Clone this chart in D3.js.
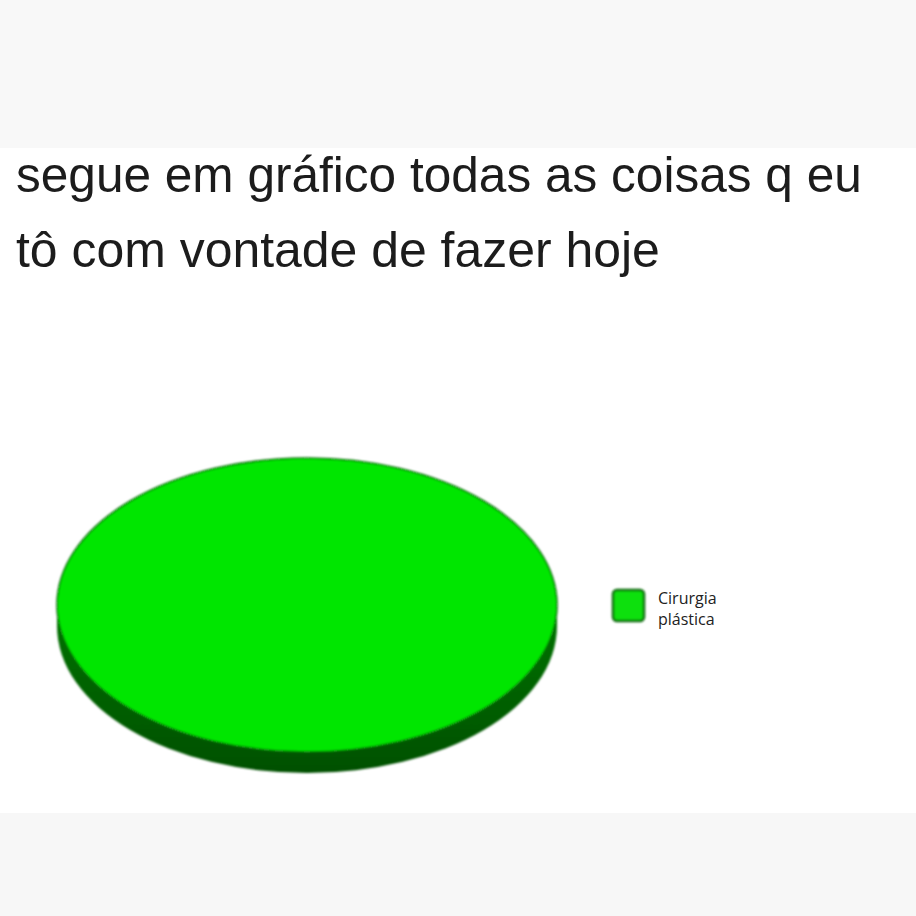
<!DOCTYPE html>
<html><head><meta charset="utf-8">
<script src="https://cdn.jsdelivr.net/npm/d3@7"></script>
<style>html,body{margin:0;padding:0;background:#fff;}svg{display:block;}</style>
</head><body>
<script>
const titleLines = ["segue em gráfico todas as coisas q eu", "tô com vontade de fazer hoje"];
const categories = ["Cirurgia plástica"];
const values = [100];
const legendLines = ["Cirurgia", "plástica"];

(function () {
const W = 916, H = 916;
const svg = d3.select("body").append("svg").attr("width", W).attr("height", H);

svg.append("rect").attr("width", W).attr("height", 148).attr("fill", "#f8f8f8");
svg.append("rect").attr("y", 148).attr("width", W).attr("height", 665).attr("fill", "#ffffff");
svg.append("rect").attr("y", 813).attr("width", W).attr("height", 103).attr("fill", "#f7f7f7");

const defs = svg.append("defs");
const sideGrad = defs.append("linearGradient").attr("id", "side").attr("x1", 0).attr("x2", 0).attr("y1", 0).attr("y2", 1);
sideGrad.append("stop").attr("offset", "0%").attr("stop-color", "#009000");
sideGrad.append("stop").attr("offset", "100%").attr("stop-color", "#005000");
const blur = defs.append("filter").attr("id", "soft").attr("x", "-10%").attr("y", "-10%").attr("width", "120%").attr("height", "120%");
blur.append("feGaussianBlur").attr("stdDeviation", 1.2);

// title
const titleTargets = [846, 644];
const tg = svg.append("g");
titleLines.forEach((t, i) => {
  const txt = tg.append("text").attr("x", 16).attr("y", [192, 267][i])
    .attr("font-family", "Liberation Sans, Arial, sans-serif").attr("font-size", 40)
    .attr("fill", "#1c1c1c").text(t);
  const len = txt.node().getComputedTextLength();
  txt.attr("font-size", 40 * titleTargets[i] / len);
});

// pie
const cx = 307, cy = 605, R = 250, ry = 147, depth = 21;
const pieData = d3.pie().sort(null)(values);
const arc = d3.arc().innerRadius(0).outerRadius(R);
const pg = svg.append("g").attr("filter", "url(#soft)");

const sideG = pg.append("g").attr("transform", `translate(${cx},${cy + depth}) scale(1,${ry / R})`);
sideG.selectAll("path").data(pieData).join("path").attr("d", arc).attr("fill", "url(#side)");
pg.append("rect").attr("x", cx - R).attr("y", cy).attr("width", 2 * R).attr("height", depth).attr("fill", "#007a00");

const topG = pg.append("g").attr("transform", `translate(${cx},${cy}) scale(1,${ry / R})`);
topG.selectAll("path").data(pieData).join("path").attr("d", arc)
  .attr("fill", "#04e604").attr("stroke", "#0a6e0a").attr("stroke-width", 1.6)
  .attr("vector-effect", "non-scaling-stroke");

// legend
const lg = svg.append("g").attr("transform", "translate(613,590)");
lg.selectAll("rect").data(categories).join("rect")
  .attr("x", 0).attr("y", 0).attr("width", 31).attr("height", 31).attr("rx", 4)
  .attr("fill", "#10e010").attr("stroke", "#0b6a0b").attr("stroke-width", 2.5).attr("filter", "url(#soft)");
lg.selectAll("text.leg").data(legendLines).join("text").attr("class", "leg")
  .attr("x", 45).attr("y", (d, i) => 14 + i * 21)
  .attr("font-family", "Open Sans, Noto Sans, sans-serif")
  .attr("font-size", 16).attr("fill", "#222").text(d => d);
})();
</script>
</body></html>
